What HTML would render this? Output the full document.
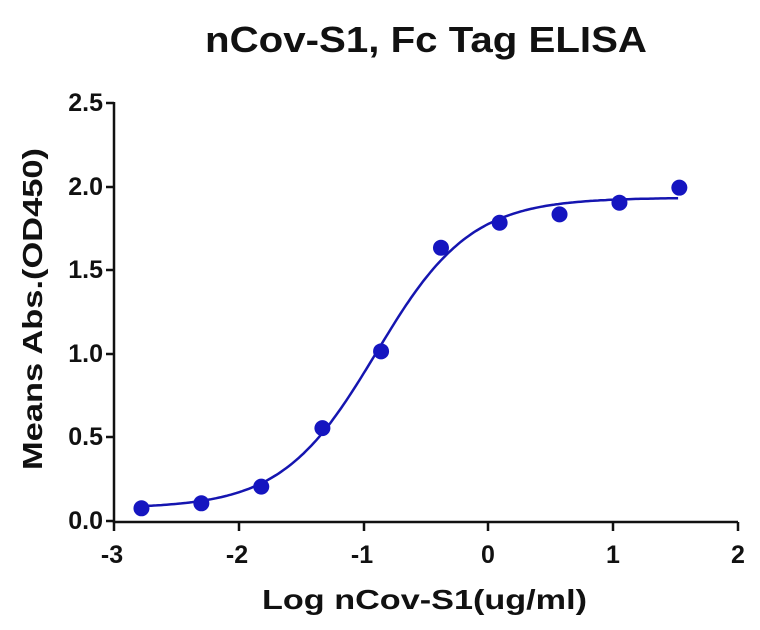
<!DOCTYPE html>
<html><head><style>body{margin:0;background:#fff}svg{display:block}text{font-family:"Liberation Sans",Arial,sans-serif;font-weight:bold;fill:#111}</style></head>
<body>
<svg id="s" width="760" height="630" viewBox="0 0 760 630">
<text x="205" y="52" font-size="36" textLength="442" lengthAdjust="spacingAndGlyphs">nCov-S1, Fc Tag ELISA</text>
<g stroke="#111" stroke-width="2.5" fill="none">
<path d="M114 102V522H738"/>
<path d="M106 103H114M106 187H114M106 270H114M106 354H114M106 437H114M106 521H114"/>
<path d="M114 522v9M239 522v9M364 522v9M488 522v9M613 522v9M738 522v9"/>
</g>
<g font-size="25" text-anchor="end">
<text x="103" y="111">2.5</text><text x="103" y="195">2.0</text><text x="103" y="278">1.5</text><text x="103" y="362">1.0</text><text x="103" y="445">0.5</text><text x="103" y="529">0.0</text>
</g>
<g font-size="25" text-anchor="middle">
<text x="112" y="563">-3</text><text x="237" y="563">-2</text><text x="362" y="563">-1</text><text x="488" y="563">0</text><text x="613" y="563">1</text><text x="738" y="563">2</text>
</g>
<text x="262" y="609" font-size="28" textLength="325" lengthAdjust="spacingAndGlyphs">Log nCov-S1(ug/ml)</text>
<text transform="translate(42 470) rotate(-90)" font-size="28" textLength="322" lengthAdjust="spacingAndGlyphs">Means Abs.(OD450)</text>
<path id="c" stroke="#1515b0" stroke-width="2.5" fill="none"/>
<g id="p" fill="#1515c0"></g>
</svg>
<script>
var X=v=>114+124.8*(v+3),Y=v=>520-167*v;
var d="";for(var v=-2.78;v<=1.54;v+=0.02){var y=0.07+1.86/(1+Math.pow(10,1.15*(-0.9-v)));d+=(d?"L":"M")+X(v).toFixed(1)+" "+Y(y).toFixed(1);}
document.getElementById("c").setAttribute("d",d);
var pts=[[-2.78,0.07],[-2.3,0.1],[-1.82,0.2],[-1.33,0.55],[-0.86,1.01],[-0.38,1.63],[0.09,1.78],[0.57,1.83],[1.05,1.9],[1.53,1.99]],h="";
pts.forEach(p=>h+='<circle cx="'+X(p[0])+'" cy="'+Y(p[1])+'" r="8"/>');
document.getElementById("p").innerHTML=h;
</script>
</body></html>
